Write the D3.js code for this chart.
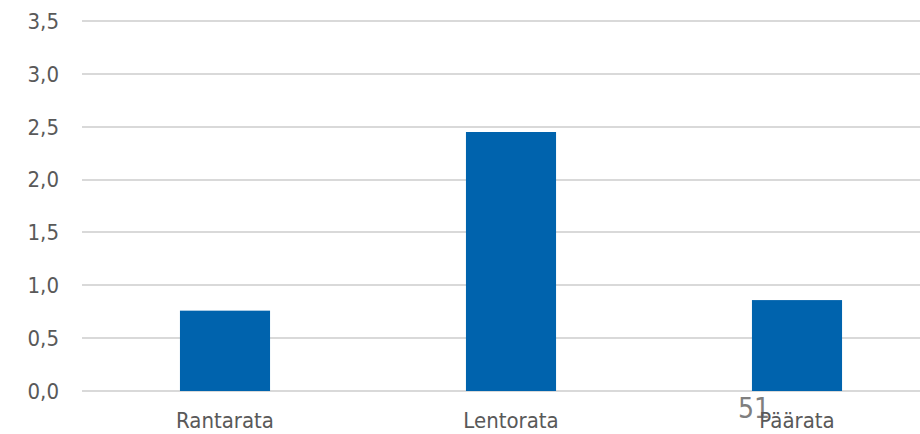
<!DOCTYPE html>
<html lang="fi">
<head>
    <meta charset="UTF-8">
    <title>Rataosuudet</title>
    <style>
        body {
            margin: 0;
            background: #fff;
        }
        svg {
            display: block;
            font-family: "DejaVu Sans Condensed", "DejaVu Sans", sans-serif;
        }
        .tick-label {
            font-size: 22px;
            fill: #595959;
        }
        .grid line {
            stroke: #d9d9d9;
            stroke-width: 2px;
        }
    </style>
    <script src="https://d3js.org/d3.v7.min.js"></script>
</head>
<body>
    <svg id="chart" width="920" height="434"></svg>
    <script>
        const categories = ["Rantarata", "Lentorata", "Päärata"];
        const values = [0.76, 2.45, 0.86];
        const yTicks = [0, 0.5, 1.0, 1.5, 2.0, 2.5, 3.0, 3.5];
        const pageNumber = "51";

        const svg = d3.select("#chart");
        const margin = { top: 21, left: 82, bottom: 43 };
        const plotRight = 940;
        const height = 434 - margin.bottom;

        const xScale = d3.scaleBand()
            .domain(categories)
            .range([margin.left, plotRight])
            .paddingInner(0.685)
            .paddingOuter(0.3425);

        const yScale = d3.scaleLinear()
            .domain([0, 3.5])
            .range([height, margin.top]);

        const fmt = d => d3.format(".1f")(d).replace(".", ",");

        // gridlines
        svg.append("g")
            .attr("class", "grid")
            .selectAll("line")
            .data(yTicks)
            .enter().append("line")
            .attr("x1", margin.left)
            .attr("x2", 920)
            .attr("y1", d => Math.round(yScale(d)))
            .attr("y2", d => Math.round(yScale(d)));

        // y labels
        svg.append("g")
            .selectAll("text")
            .data(yTicks)
            .enter().append("text")
            .attr("class", "tick-label")
            .attr("x", 59)
            .attr("y", d => yScale(d))
            .attr("dy", "0.36em")
            .attr("text-anchor", "end")
            .text(fmt);

        // bars
        svg.append("g")
            .selectAll("rect")
            .data(values)
            .enter().append("rect")
            .attr("x", (d, i) => xScale(categories[i]))
            .attr("y", d => yScale(d))
            .attr("width", xScale.bandwidth())
            .attr("height", d => yScale(0) - yScale(d))
            .attr("fill", "#0063ad");

        // page number (drawn behind the category label)
        svg.append("text")
            .attr("x", 738)
            .attr("y", 418)
            .attr("font-size", 28)
            .attr("fill", "#7f7f7f")
            .text(pageNumber);

        // x labels
        svg.append("g")
            .selectAll("text")
            .data(categories)
            .enter().append("text")
            .attr("class", "tick-label")
            .attr("x", d => xScale(d) + xScale.bandwidth() / 2)
            .attr("y", 428)
            .attr("text-anchor", "middle")
            .text(d => d);
    </script>
</body>
</html>
